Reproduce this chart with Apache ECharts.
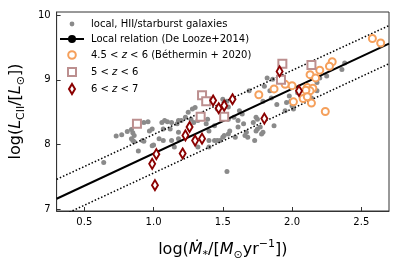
<!DOCTYPE html>
<html><head><meta charset="utf-8">
<script src="https://cdn.jsdelivr.net/npm/echarts@6/dist/echarts.min.js"></script>
<style>html,body{margin:0;padding:0;background:#fff}#c{width:399px;height:266px}</style>
</head><body><div id="c"></div>
<script>
// ---- data ----
const localGal = [
[0.64,7.72],[0.73,8.13],[0.77,8.15],[0.81,8.20],[0.84,8.23],[0.85,8.18],[0.86,8.14],[0.84,8.09],[0.85,8.06],[0.86,8.04],
[0.89,7.90],[0.92,8.06],[0.93,8.05],[0.93,8.34],[0.96,8.35],[0.97,8.21],[0.99,8.24],[0.99,7.98],[1.00,7.99],[1.04,8.09],
[1.06,8.34],[1.07,8.24],[1.07,8.06],[1.08,8.37],[1.10,8.35],[1.12,8.24],[1.13,8.06],[1.13,8.34],[1.15,7.96],[1.17,8.32],
[1.18,8.19],[1.18,8.09],[1.18,8.37],[1.20,8.37],[1.23,8.42],[1.25,8.50],[1.27,8.39],[1.28,8.55],[1.29,8.34],[1.30,8.57],
[1.32,8.37],[1.32,7.96],[1.35,8.47],[1.38,8.32],[1.39,8.39],[1.40,8.21],[1.40,7.96],[1.40,8.06],[1.44,8.29],[1.44,8.06],
[1.46,8.55],[1.46,8.06],[1.48,8.06],[1.50,8.70],[1.50,8.11],[1.51,8.14],[1.53,8.67],[1.53,7.58],[1.54,8.58],[1.54,8.39],
[1.54,8.16],[1.55,8.21],[1.58,8.42],[1.59,8.11],[1.61,8.37],[1.61,8.27],[1.62,8.52],[1.64,8.47],[1.65,8.32],[1.66,8.14],
[1.67,8.19],[1.68,8.11],[1.69,8.83],[1.72,8.34],[1.73,8.06],[1.74,8.42],[1.74,8.21],[1.75,8.24],[1.75,8.39],[1.77,8.27],
[1.78,8.16],[1.79,8.19],[1.79,8.67],[1.80,8.90],[1.82,9.03],[1.84,8.83],[1.85,8.72],[1.86,9.01],[1.87,8.29],[1.89,8.62],
[1.95,8.52],[1.96,8.65],[1.98,8.75],[1.99,8.67],[2.00,8.60],[2.01,8.55],[2.04,8.80],[2.14,8.72],[2.18,8.83],[2.18,8.96],
[2.20,9.03],[2.25,9.06],[2.36,9.16],[2.38,9.26]
];
const bethermin = [
[2.58,9.64],[2.64,9.57],[2.29,9.28],[2.27,9.21],[2.20,9.15],[2.13,9.08],[2.17,9.03],[2.00,8.91],[1.95,8.93],[1.87,8.86],
[1.76,8.77],[2.11,8.88],[2.15,8.87],[2.13,8.83],[2.10,8.84],[2.08,8.71],[2.11,8.74],[2.01,8.66],[2.14,8.64],[2.24,8.51]
];
const z5to6 = [[0.88,8.32],[1.35,8.76],[1.38,8.67],[1.34,8.43],[1.51,8.43],[1.93,9.25],[1.92,9.00],[2.14,9.23]];
const z6to7 = [
[0.99,7.70],[1.02,7.85],[1.01,7.37],[1.21,7.86],[1.23,8.14],[1.26,8.27],[1.30,8.06],[1.35,8.09],
[1.43,8.68],[1.47,8.56],[1.51,8.60],[1.57,8.70],[1.80,8.40],[1.91,9.13],[2.05,8.83]
];
const relX = [0.3, 2.7];
const relY = [7.16, 9.56];
const relUpperY = [7.46, 9.84];
const relLowerY = [6.86, 9.25];
const xTicks = [0.5, 1.0, 1.5, 2.0, 2.5];
const yTicks = [7, 8, 9, 10];
const names = ['local, HII/starburst galaxies', 'Local relation (De Looze+2014)',
  '4.5 < z < 6 (Béthermin + 2020)', '5 < z < 6', '6 < z < 7'];
const richNames = {
  [names[2]]: '4.5 < {i|z} < 6 (Béthermin + 2020)',
  [names[3]]: '5 < {i|z} < 6',
  [names[4]]: '6 < {i|z} < 7'
};
// --------------------------------------
const F = 'DejaVu Sans';
const pair = (xs, ys) => xs.map((x, i) => [x, ys[i]]);
const chart = echarts.init(document.getElementById('c'), null, {renderer: 'canvas'});
const axisCol = '#333';
const icons = {
  dot: 'path://M0,0L0,0M2.6,5a2.4,2.4 0 1,0 4.8,0a2.4,2.4 0 1,0 -4.8,0M10,10L10,10',
  circ: 'path://M0,0L0,0M1.2,5a3.8,3.8 0 1,0 7.6,0a3.8,3.8 0 1,0 -7.6,0M10,10L10,10',
  sq: 'path://M0,0L0,0M1,1L9,1L9,9L1,9ZM10,10L10,10',
  dia: 'path://M3,0L6,5L3,10L0,5Z'
};
chart.setOption({
  animation: false,
  backgroundColor: '#fff',
  grid: {left: 49, top: 12, right: 10, bottom: 53, show: true, borderColor: axisCol, borderWidth: 1},
  legend: {
    data: [
      {name: names[0], icon: icons.dot},
      {name: names[1]},
      {name: names[2], icon: icons.circ},
      {name: names[3], icon: icons.sq},
      {name: names[4], icon: icons.dia}
    ],
    orient: 'vertical', left: 59, top: 19, padding: 0, itemGap: 5,
    itemWidth: 24, itemHeight: 10, symbolKeepAspect: true,
    formatter: n => richNames[n] || n,
    textStyle: {fontFamily: F, fontSize: 10, color: '#000', padding: [0,0,0,2],
      rich: {i: {fontFamily: F, fontSize: 10, fontStyle: 'italic', color: '#000'}}}
  },
  xAxis: {
    type: 'value', min: 0.3, max: 2.7,
    axisLine: {lineStyle: {color: axisCol, width: 1}},
    axisTick: {inside: true, length: 4, customValues: xTicks, lineStyle: {color: axisCol}},
    axisLabel: {customValues: xTicks, formatter: v => v.toFixed(1), fontFamily: F, fontSize: 10, color: '#000', margin: 6},
    splitLine: {show: false},
    name: '{t|log(}{it|Ṁ}{sub|*}{t|/[}{it|M}{sub|⊙}{t|yr}{sup|−1}{t|])}',
    nameLocation: 'middle', nameGap: 28,
    nameTextStyle: {rich: {
      t: {fontFamily: F, fontSize: 16, color: '#000', lineHeight: 22, verticalAlign: 'middle'},
      it: {fontFamily: F, fontSize: 16, fontStyle: 'italic', color: '#000', lineHeight: 22, verticalAlign: 'middle'},
      sub: {fontFamily: F, fontSize: 11, color: '#000', verticalAlign: 'bottom', lineHeight: 14},
      sup: {fontFamily: F, fontSize: 11, color: '#000', verticalAlign: 'top', lineHeight: 14}
    }}
  },
  yAxis: {
    type: 'value', min: 6.97, max: 10.05,
    axisLine: {lineStyle: {color: axisCol, width: 1}},
    axisTick: {inside: true, length: 4, customValues: yTicks, lineStyle: {color: axisCol}},
    axisLabel: {customValues: yTicks, formatter: v => String(Math.round(v)), fontFamily: F, fontSize: 10, color: '#000', margin: 6},
    splitLine: {show: false},
    name: '{t|log(}{it|L}{sub|CII}{t|/[}{it|L}{sub|⊙}{t|])}',
    nameLocation: 'middle', nameGap: 25, nameRotate: 90,
    nameTextStyle: {rich: {
      t: {fontFamily: F, fontSize: 16, color: '#000', lineHeight: 22, verticalAlign: 'middle'},
      it: {fontFamily: F, fontSize: 16, fontStyle: 'italic', color: '#000', lineHeight: 22, verticalAlign: 'middle'},
      sub: {fontFamily: F, fontSize: 11, color: '#000', verticalAlign: 'bottom', lineHeight: 14}
    }}
  },
  series: [
    {name: names[0], type: 'scatter', data: localGal, symbol: 'circle', symbolSize: 5,
     itemStyle: {color: '#8a8a8a', opacity: 1}, z: 2},
    {name: names[1], type: 'line', data: pair(relX, relY), showSymbol: false, symbol: 'none',
     lineStyle: {color: '#000', width: 2}, itemStyle: {color: '#000'}, z: 3},
    {name: 'upper', type: 'line', data: pair(relX, relUpperY), showSymbol: false, symbol: 'none',
     lineStyle: {color: '#000', width: 1.5, type: [1.5, 2]}, z: 3, silent: true},
    {name: 'lower', type: 'line', data: pair(relX, relLowerY), showSymbol: false, symbol: 'none',
     lineStyle: {color: '#000', width: 1.5, type: [1.5, 2]}, z: 3, silent: true},
    {name: names[2], type: 'scatter', data: bethermin, symbol: 'circle', symbolSize: 7,
     itemStyle: {color: '#fff', borderColor: '#f5a05c', borderWidth: 2, opacity: 1}, z: 4},
    {name: names[3], type: 'scatter', data: z5to6, symbol: 'rect', symbolSize: 8,
     itemStyle: {color: '#fff', borderColor: '#bc8f8f', borderWidth: 2, opacity: 1}, z: 5},
    {name: names[4], type: 'scatter', data: z6to7, symbol: 'diamond', symbolSize: [6, 10],
     itemStyle: {color: '#fff', borderColor: '#8b0000', borderWidth: 2, opacity: 1}, z: 6}
  ]
});
</script></body></html>
